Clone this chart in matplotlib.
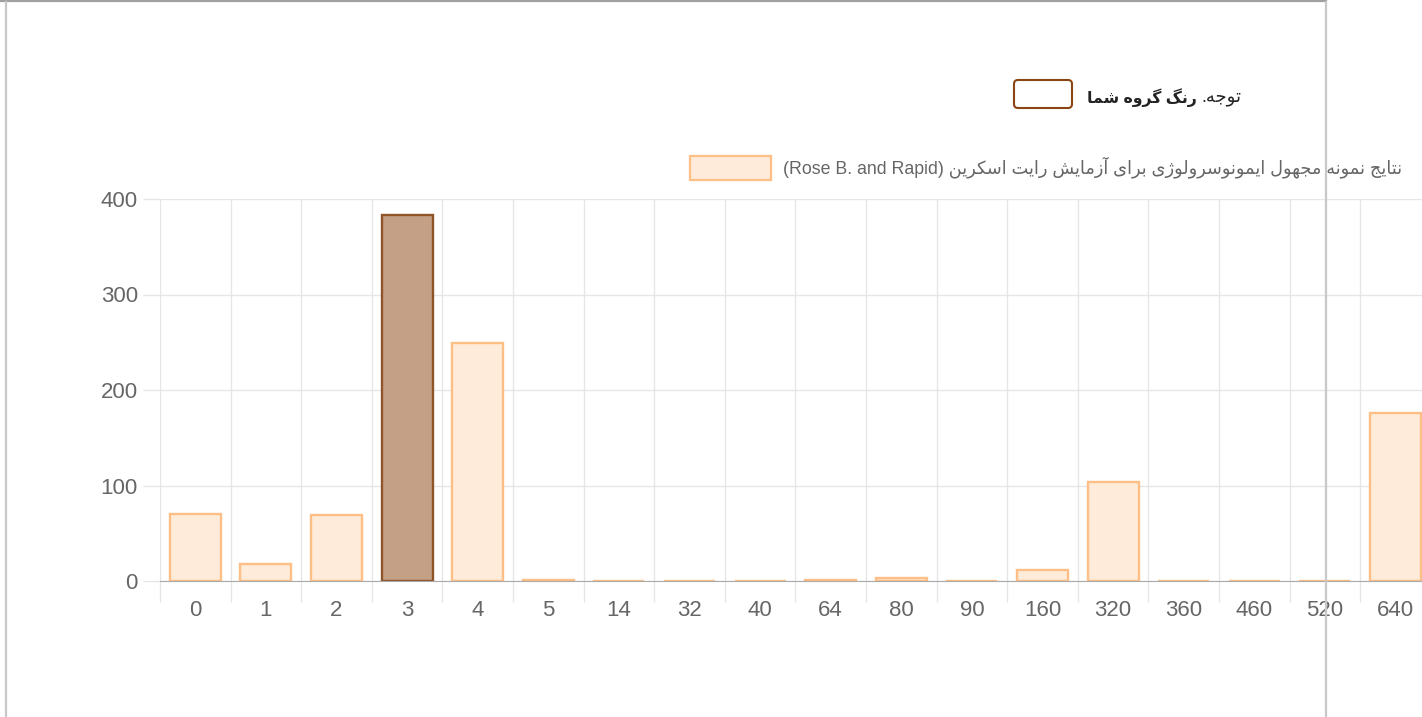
import matplotlib
matplotlib.use("Agg")
import matplotlib.pyplot as plt
from matplotlib.patches import FancyBboxPatch, Rectangle
from matplotlib.lines import Line2D
from matplotlib.transforms import IdentityTransform

plt.rcParams['font.family'] = ['Liberation Sans', 'DejaVu Sans']

# data
labels = ['0', '1', '2', '3', '4', '5', '14', '32', '40', '64', '80', '90',
          '160', '320', '360', '460', '520', '640']
counts = [70, 18, 69, 383, 249, 1, 0, 0, 0, 1, 3, 0, 12, 104, 0, 0, 0, 176]
group_label = '3'
y_ticks = [0, 100, 200, 300, 400]

note_word = "توجه."
note_bold = "رنگ گروه شما"
legend_fa = "نتایج نمونه مجهول ایمونوسرولوژی برای آزمایش رایت اسکرین"
legend_en = "(Rose B. and Rapid)"

# minimal Persian shaping (isolated, final, initial, medial)
FORMS = {
    'ا': ('\uFE8D', '\uFE8E'), 'آ': ('\uFE81', '\uFE82'),
    'د': ('\uFEA9', '\uFEAA'), 'ذ': ('\uFEAB', '\uFEAC'),
    'ر': ('\uFEAD', '\uFEAE'), 'ز': ('\uFEAF', '\uFEB0'),
    'ژ': ('\uFB8A', '\uFB8B'), 'و': ('\uFEED', '\uFEEE'),
    'ب': ('\uFE8F', '\uFE90', '\uFE91', '\uFE92'),
    'پ': ('\uFB56', '\uFB57', '\uFB58', '\uFB59'),
    'ت': ('\uFE95', '\uFE96', '\uFE97', '\uFE98'),
    'ج': ('\uFE9D', '\uFE9E', '\uFE9F', '\uFEA0'),
    'چ': ('\uFB7A', '\uFB7B', '\uFB7C', '\uFB7D'),
    'ح': ('\uFEA1', '\uFEA2', '\uFEA3', '\uFEA4'),
    'خ': ('\uFEA5', '\uFEA6', '\uFEA7', '\uFEA8'),
    'س': ('\uFEB1', '\uFEB2', '\uFEB3', '\uFEB4'),
    'ش': ('\uFEB5', '\uFEB6', '\uFEB7', '\uFEB8'),
    'ک': ('\uFB8E', '\uFB8F', '\uFB90', '\uFB91'),
    'گ': ('\uFB92', '\uFB93', '\uFB94', '\uFB95'),
    'ل': ('\uFEDD', '\uFEDE', '\uFEDF', '\uFEE0'),
    'م': ('\uFEE1', '\uFEE2', '\uFEE3', '\uFEE4'),
    'ن': ('\uFEE5', '\uFEE6', '\uFEE7', '\uFEE8'),
    'ه': ('\uFEE9', '\uFEEA', '\uFEEB', '\uFEEC'),
    'ی': ('\uFBFC', '\uFBFD', '\uFBFE', '\uFBFF'),
}


def rtl(text):
    out = []
    for i, ch in enumerate(text):
        if ch not in FORMS:
            out.append(ch)
            continue
        f = FORMS[ch]
        prev = text[i - 1] if i > 0 else ''
        nxt = text[i + 1] if i + 1 < len(text) else ''
        join_prev = prev in FORMS and len(FORMS[prev]) == 4
        join_next = len(f) == 4 and nxt in FORMS
        if join_prev and join_next:
            out.append(f[3])
        elif join_prev:
            out.append(f[1])
        elif join_next:
            out.append(f[2])
        else:
            out.append(f[0])
    return ''.join(reversed(out))


W, H = 1422, 717
fig = plt.figure(figsize=(W / 100, H / 100), dpi=100)

step = 70.6
ax = fig.add_axes([160 / W, (H - 581) / H, len(labels) * step / W, 382 / H])

x = list(range(len(labels)))
fills = ['#c4a087' if l == group_label else '#ffebd9' for l in labels]
edges = ['#8f5428' if l == group_label else '#fdbf85' for l in labels]
ax.bar(x, counts, width=0.72, color=fills, edgecolor=edges, linewidth=1.7,
       zorder=3)

ax.set_xlim(-0.5, len(labels) - 0.5)
ax.set_ylim(0, 400)
ax.set_yticks(y_ticks)
ax.set_xticks(x)
ax.set_xticklabels(labels)
ax.set_xticks([i - 0.5 for i in range(len(labels) + 1)], minor=True)
ax.set_axisbelow(True)
ax.grid(axis='x', which='minor', color='#e6e6e6', lw=1)
ax.grid(axis='y', which='major', color='#e6e6e6', lw=1)
ax.tick_params(axis='x', which='major', length=0, pad=14, labelsize=16,
               labelcolor='#666666')
ax.tick_params(axis='x', which='minor', length=15, color='#e6e6e6', width=1)
ax.tick_params(axis='y', length=12, color='#e6e6e6', width=1, pad=4,
               labelsize=16, labelcolor='#666666')
ax.yaxis.get_major_ticks()[0].tick1line.set_color('#aaaaaa')
for s in ['top', 'right', 'left']:
    ax.spines[s].set_visible(False)
ax.spines['bottom'].set_color('#aaaaaa')
ax.spines['bottom'].set_zorder(4)

T = IdentityTransform()

# legend
fig.add_artist(Rectangle((690, H - 180), 81, 24, transform=T,
                         facecolor='#ffebd9', edgecolor='#fdbf85', lw=1.6))
fig.text(783 / W, 1 - 167 / H, legend_en + ' ' + rtl(legend_fa),
         ha='left', va='center', fontsize=12.8, color='#666666')

# group colour note
fig.add_artist(FancyBboxPatch((1014, H - 108), 58, 28, transform=T,
                              boxstyle='round,pad=0,rounding_size=4',
                              facecolor='white', edgecolor='#8b4513', lw=1.5))
fig.text(1197 / W, 1 - 98 / H, rtl(note_bold), ha='right', va='center',
         fontsize=11.3, fontweight='bold', color='#222222')
fig.text(1201 / W, 1 - 98 / H, rtl(note_word), ha='left', va='center',
         fontsize=13, color='#222222')

# page borders
fig.add_artist(Line2D([0, 1326], [H - 1, H - 1], transform=T,
                      color='#a0a0a0', lw=1.6, zorder=10))
fig.add_artist(Line2D([5.5, 5.5], [0, H - 2], transform=T,
                      color='#c8c8c8', lw=1.6, zorder=10))
fig.add_artist(Line2D([1325.5, 1325.5], [0, H - 2], transform=T,
                      color='#c8c8c8', lw=1.6, zorder=10))

fig.savefig('out.png', dpi=100)
